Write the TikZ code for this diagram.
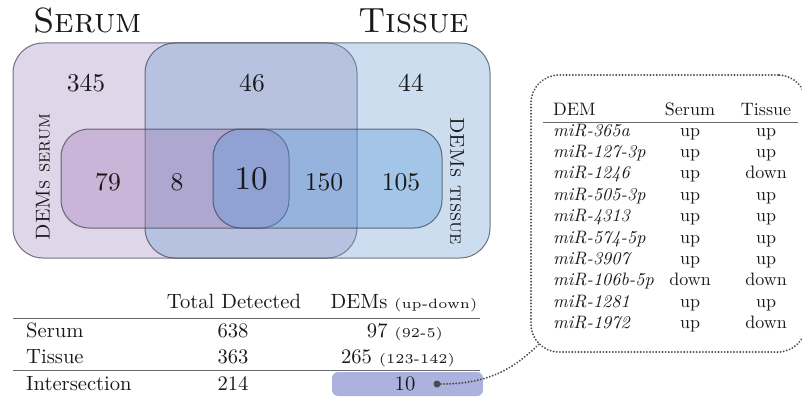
\documentclass[tikz,border=0pt]{standalone}
\usepackage{fontspec}
\setmainfont{lmroman10-regular.otf}[
  ItalicFont=lmroman10-italic.otf,
  BoldFont=lmroman10-bold.otf,
  SmallCapsFont=lmromancaps10-regular.otf]
\newfontfamily\notefont{lmroman5-regular.otf}
\newcommand\setfs[1]{\fontsize{#1}{#1}\selectfont}
\newcommand\note[1]{{\notefont\setfs{13.5}#1}}
\definecolor{serumC}{RGB}{166,138,192}
\definecolor{tissueC}{RGB}{106,158,206}
\definecolor{demS}{RGB}{161,120,182}
\definecolor{demT}{RGB}{89,152,218}
\definecolor{vline}{RGB}{60,60,75}
\definecolor{ink}{RGB}{25,25,25}
\definecolor{hlC}{RGB}{172,178,222}
\definecolor{dotC}{RGB}{75,75,80}
\definecolor{ruleC}{RGB}{105,105,105}
\begin{document}
\begin{tikzpicture}[x=1pt,y=-1pt,
  venn/.style={rectangle, draw=vline, line width=1pt, draw opacity=0.7,
    fill opacity=0.35, rounded corners=30pt, inner sep=0pt, outer sep=0pt},
  num/.style={text=ink, font=\setfs{25.6}, inner sep=0pt},
  bignum/.style={text=ink, font=\setfs{33}, inner sep=0pt},
  title/.style={text=ink, font=\setfs{35}\scshape, inner sep=0pt},
  sidelabel/.style={text=ink, font=\setfs{20}\scshape, inner sep=0pt},
  tab/.style={text=ink, font=\setfs{20.6}, inner sep=0pt, anchor=base},
  tabl/.style={tab, anchor=base west},
  ctab/.style={text=ink, font=\setfs{18}, inner sep=0pt, anchor=base},
  ctabl/.style={ctab, anchor=base west},
  rulestyle/.style={draw=ruleC, line width=1pt},
  dotline/.style={draw=dotC, line width=2.1pt, line cap=round, dash pattern=on 0.01pt off 3.1pt},
]
\useasboundingbox (0,0) rectangle (802,396);

% Venn regions
\node[venn, fill=serumC, minimum width=344pt, minimum height=215pt] (serum) at (185,150.5) {};
\node[venn, fill=tissueC, minimum width=345pt, minimum height=215pt] (tissue) at (317.5,150.5) {};
\node[venn, rounded corners=28pt, fill=demS, minimum width=228pt, minimum height=99pt] (demserum) at (175,178.5) {};
\node[venn, rounded corners=28pt, fill=demT, minimum width=229pt, minimum height=99pt] (demtissue) at (327.5,178.5) {};

% Set titles
\node[title, anchor=base west] (serumtitle) at (33,33) {Serum};
\node[title, anchor=base west] (tissuetitle) at (358,33) {Tissue};

% Side labels of the inner sets
\node[sidelabel, rotate=90] (demserumlabel) at (43,177) {DEMs serum};
\node[sidelabel, rotate=-90] (demtissuelabel) at (457,181) {DEMs tissue};

% Region counts
\node[num] (n345) at (86,83) {345};
\node[num] (n46) at (252,83) {46};
\node[num] (n44) at (411,83) {44};
\node[num] (n79) at (108,182) {79};
\node[num] (n8) at (177,182) {8};
\node[bignum] (n10) at (251,179) {10};
\node[num] (n150) at (324,182) {150};
\node[num] (n105) at (401,182) {105};

% Summary table
\node[rectangle, fill=hlC, rounded corners=6pt, minimum width=151pt, minimum height=24pt, inner sep=0pt] (hl) at (407.5,384) {};
\node[tab] (hTotal) at (234,308) {Total Detected};
\node[tab] (hDEM) at (404,308) {DEMs \note{(up-down)}};
\draw[rulestyle] (13,318) -- (480,318);
\node[tabl] (rSerum) at (26,337) {Serum};
\node[tab] (tSerum) at (233,337) {638};
\node[tab] (dSerum) at (405,337) {97 \note{(92-5)}};
\node[tabl] (rTissue) at (26,363) {Tissue};
\node[tab] (tTissue) at (233,363) {363};
\node[tab] (dTissue) at (398,363) {265 \note{(123-142)}};
\draw[rulestyle] (13,370) -- (480,370);
\node[tabl] (rInter) at (26,390) {Intersection};
\node[tab] (tInter) at (233,390) {214};
\node[tab] (dInter) at (405,390) {10};
\node[circle, fill=dotC, minimum size=7pt, inner sep=0pt] (dot) at (437,384) {};

% Callout with the shared DEMs
\node[rectangle, dotline, rounded corners=28pt, minimum width=275pt, minimum height=277pt, inner sep=0pt, outer sep=0pt] (callout) at (668.5,213.5) {};
\coordinate (calloutcorner) at (539.2,343.8);
\draw[dotline] (dot) to[out=0, in=225] (calloutcorner);

\node[ctabl] (cDEM) at (553,115) {DEM};
\node[ctab] (cSerum) at (690,115) {Serum};
\node[ctab] (cTissue) at (766,115) {Tissue};
\draw[rulestyle] (543,122) -- (798,122);
\foreach \name/\s/\t [count=\i from 0] in {365a/up/up, 127-3p/up/up, 1246/up/down,
    505-3p/up/up, 4313/up/up, 574-5p/up/up, 3907/up/up, 106b-5p/down/down,
    1281/up/up, 1972/up/down} {
  \node[ctabl] (mir\i) at (553,136+21.4*\i) {\itshape miR-\name};
  \node[ctab] (ms\i) at (690,136+21.4*\i) {\s};
  \node[ctab] (mt\i) at (766,136+21.4*\i) {\t};
}
\end{tikzpicture}
\end{document}
